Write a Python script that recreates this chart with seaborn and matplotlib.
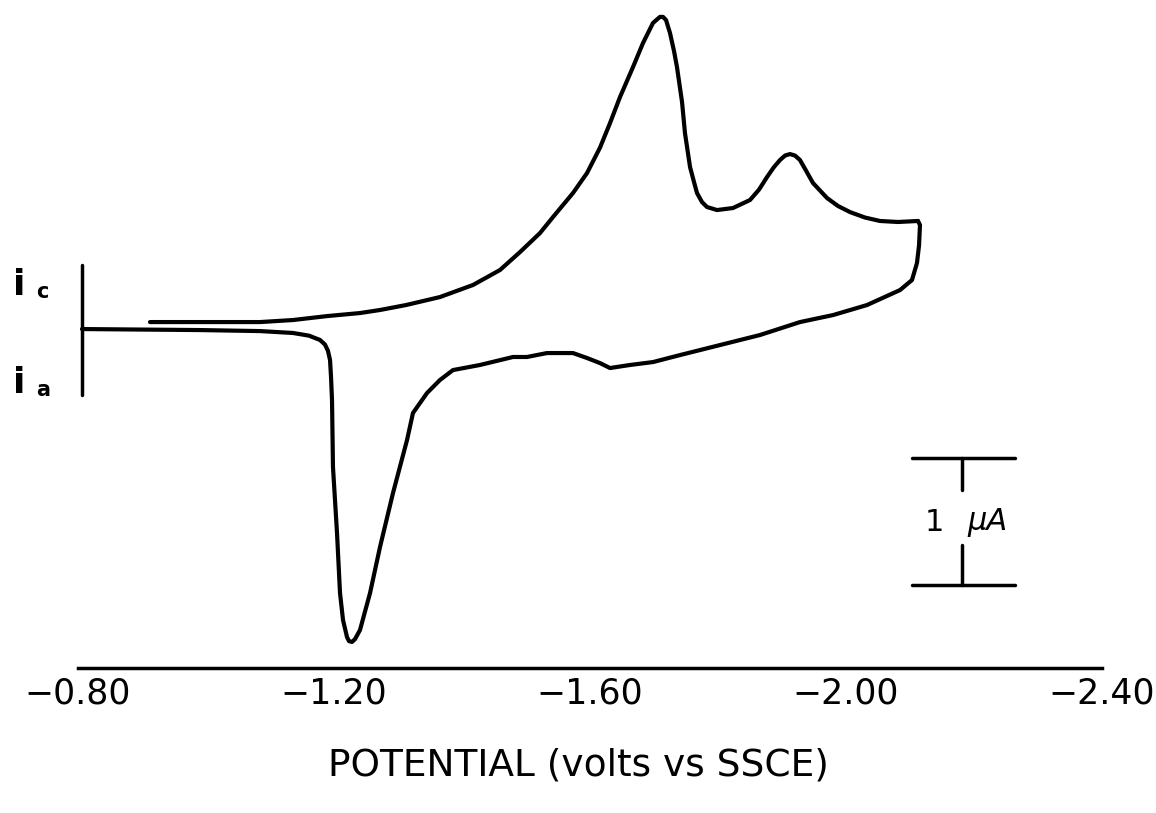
import matplotlib
matplotlib.use("Agg")
import matplotlib.pyplot as plt
import seaborn as sns
import pandas as pd

# Forward (cathodic) scan: potential (V vs SSCE) and current (uA, cathodic positive)
forward_potential = [-0.9125, -0.9906, -1.0844, -1.1359, -1.1891, -1.2406, -1.2719, -1.3125,
                     -1.3656, -1.4172, -1.4594, -1.4906, -1.5219, -1.5422, -1.5734, -1.5953,
                     -1.6156, -1.6313, -1.6469, -1.6672, -1.6828, -1.6984, -1.7047,
                     -1.7094, -1.7141, -1.7188, -1.7250, -1.7313, -1.7359, -1.7438, -1.7484,
                     -1.7563, -1.7625, -1.7672, -1.7750, -1.7828, -1.7984, -1.8234, -1.8500,
                     -1.8641, -1.8766, -1.8875, -1.8969, -1.9047, -1.9125, -1.9203, -1.9281,
                     -1.9375, -1.9484, -1.9703, -1.9875, -2.0063, -2.0297, -2.0531, -2.0813,
                     -2.1125]
forward_current = [0.047, 0.047, 0.047, 0.063, 0.094, 0.118, 0.142, 0.181,
                   0.244, 0.339, 0.457, 0.598, 0.748, 0.874, 1.063, 1.220,
                   1.420, 1.614, 1.819, 2.055, 2.244, 2.402, 2.430,
                   2.450, 2.450, 2.425, 2.323, 2.180, 2.055, 1.780, 1.535,
                   1.268, 1.150, 1.063, 0.992, 0.953, 0.929, 0.945, 1.008,
                   1.090, 1.189, 1.268, 1.323, 1.358, 1.370, 1.358, 1.323,
                   1.240, 1.142, 1.024, 0.961, 0.913, 0.870, 0.843, 0.835,
                   0.843]

# Reverse (anodic) scan
reverse_potential = [-2.1125, -2.1156, -2.1141, -2.1109, -2.1031, -2.0844, -2.0328, -1.9797,
                     -1.9281, -1.8656, -1.8031, -1.7406, -1.6984, -1.6625, -1.6313, -1.6156,
                     -1.5953, -1.5734, -1.5328, -1.5016, -1.4797, -1.4281, -1.3859, -1.3656,
                     -1.3453, -1.3234, -1.3141, -1.2922, -1.2719, -1.2563, -1.2406, -1.2328,
                     -1.2281, -1.2234, -1.2203, -1.2141, -1.2094, -1.2047, -1.1984, -1.1969,
                     -1.1953, -1.1938, -1.1906, -1.1859, -1.1781, -1.1609, -1.1359, -1.0844,
                     -0.9906, -0.8063]
reverse_current = [0.843, 0.811, 0.650, 0.512, 0.378, 0.299, 0.181, 0.102,
                   0.047, -0.055, -0.134, -0.213, -0.268, -0.291, -0.315, -0.276,
                   -0.236, -0.197, -0.197, -0.228, -0.228, -0.291, -0.331, -0.409,
                   -0.512, -0.669, -0.882, -1.299, -1.724, -2.087, -2.378, -2.450,
                   -2.472, -2.465, -2.433, -2.300, -2.087, -1.614, -1.094, -0.567,
                   -0.380, -0.252, -0.180, -0.130, -0.094, -0.060, -0.039, -0.024,
                   -0.016, -0.008]

tick_values = [-0.80, -1.20, -1.60, -2.00, -2.40]
tick_labels = ["\u22120.80", "\u22121.20", "\u22121.60", "\u22122.00", "\u22122.40"]
x_label = "POTENTIAL (volts vs SSCE)"
scale_label_num = "1"
scale_label_unit = "\u03bcA"

sns.set_style("white")
plt.rcParams['font.family'] = ['DejaVu Sans']
plt.rcParams['text.color'] = 'black'
plt.rcParams['xtick.color'] = 'black'
plt.rcParams['axes.labelcolor'] = 'black'

fig = plt.figure(figsize=(11.56, 8.13), dpi=100)
ax = fig.add_axes([78 / 1156, 1 - 668 / 813, 1024 / 1156, 668 / 813])

df_f = pd.DataFrame({"V": forward_potential, "I": forward_current})
df_r = pd.DataFrame({"V": reverse_potential, "I": reverse_current})
sns.lineplot(data=df_f, x="V", y="I", sort=False, estimator=None, color="black",
             linewidth=3.0, ax=ax)
sns.lineplot(data=df_r, x="V", y="I", sort=False, estimator=None, color="black",
             linewidth=3.0, ax=ax)
for ln in ax.lines:
    ln.set_solid_joinstyle("round")
    ln.set_solid_capstyle("round")

ax.set_xlim(-0.80, -2.40)
ax.set_ylim(-2.677, 2.583)

for s in ["left", "right", "top"]:
    ax.spines[s].set_visible(False)
ax.spines["bottom"].set_linewidth(2.5)
ax.spines["bottom"].set_color("black")
ax.set_yticks([])
ax.set_xticks(tick_values)
ax.set_xticklabels(tick_labels, fontsize=25, color="black")
ax.tick_params(axis="x", direction="in", length=10, width=2.2, pad=6, colors="black")
ax.set_xlabel("")
ax.set_ylabel("")

# current-direction marker
ax.plot([-0.806, -0.806], [0.496, -0.528], color="black", linewidth=2.5)
fig.text(12 / 1156, 1 - 285 / 813, r"$\mathbf{i}$", fontsize=26, va="center", ha="left",
         color="black")
fig.text(36 / 1156, 1 - 292 / 813, r"$\mathbf{c}$", fontsize=15, va="center", ha="left",
         color="black")
fig.text(12 / 1156, 1 - 383 / 813, r"$\mathbf{i}$", fontsize=26, va="center", ha="left",
         color="black")
fig.text(36 / 1156, 1 - 390 / 813, r"$\mathbf{a}$", fontsize=15, va="center", ha="left",
         color="black")

# scale bar (1 uA)
ax.plot([-2.1031, -2.2641], [-1.024, -1.024], color="black", linewidth=2.5)
ax.plot([-2.1031, -2.2641], [-2.024, -2.024], color="black", linewidth=2.5)
ax.plot([-2.1813, -2.1813], [-1.024, -1.276], color="black", linewidth=2.5)
ax.plot([-2.1813, -2.1813], [-1.709, -2.024], color="black", linewidth=2.5)
ax.text(-2.1375, -1.535, scale_label_num, fontsize=22, ha="center", va="center",
        color="black")
ax.text(-2.2219, -1.535, scale_label_unit, fontsize=22, ha="center", va="center",
        style="italic", color="black")

fig.text(578 / 1156, 1 - 765 / 813, x_label, fontsize=27, ha="center", va="center",
         color="black")

fig.savefig("out.png", dpi=100, facecolor="white")
